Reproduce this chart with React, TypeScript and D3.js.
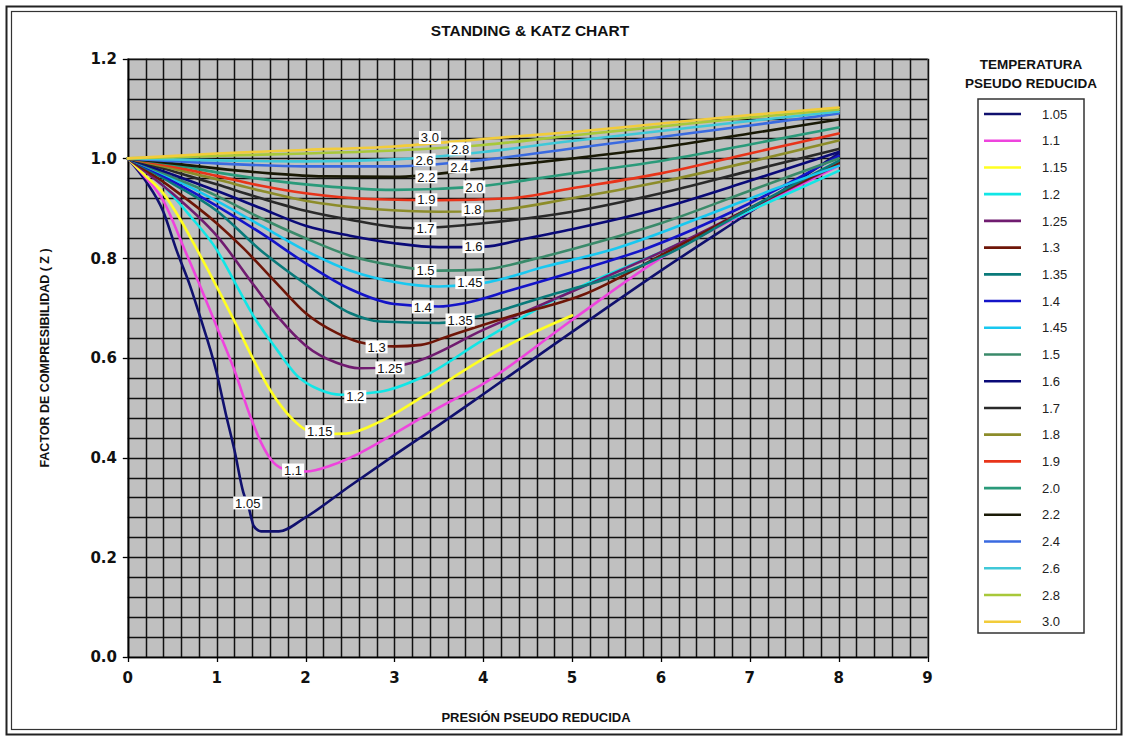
import React from "react";
import * as d3 from "d3";

type P = [number, number];

const temps = ["1.05", "1.1", "1.15", "1.2", "1.25", "1.3", "1.35", "1.4", "1.45", "1.5", "1.6", "1.7", "1.8", "1.9", "2.0", "2.2", "2.4", "2.6", "2.8", "3.0"];
const colors = ["#10106e", "#ee44dd", "#ffff22", "#11e6e6", "#701c70", "#6e1608", "#0a7a7a", "#1414c8", "#18c8f0", "#3a8a6a", "#0a0a78", "#2a2a2a", "#8c8c2a", "#e8341a", "#2a9a7a", "#1a1a06", "#3a6ae0", "#40c8d8", "#a8c83a", "#f2cc3a"];

const z105: P[] = [[0, 1], [0.2, 0.955], [0.4, 0.893], [0.55, 0.815], [0.7, 0.745], [0.8, 0.69], [1.0, 0.57], [1.1, 0.49], [1.2, 0.415], [1.3, 0.33], [1.36, 0.3], [1.42, 0.262], [1.5, 0.252], [1.7, 0.252], [2.0, 0.28], [2.5, 0.343], [3.0, 0.405], [3.5, 0.465], [4.0, 0.527], [5.0, 0.652], [6.0, 0.775], [7.0, 0.892], [8.0, 1.01]];
const z110: P[] = [[0, 1], [0.2, 0.962], [0.4, 0.915], [0.64, 0.817], [0.8, 0.75], [1.0, 0.663], [1.2, 0.575], [1.38, 0.482], [1.5, 0.43], [1.64, 0.39], [1.8, 0.375], [2.0, 0.372], [2.3, 0.385], [2.6, 0.408], [3.0, 0.448], [3.5, 0.5], [4.0, 0.548], [5.0, 0.676], [6.0, 0.8], [7.0, 0.895], [8.0, 0.985]];
const z115: P[] = [[0, 1], [0.2, 0.965], [0.4, 0.93], [0.6, 0.875], [0.74, 0.83], [1.0, 0.743], [1.23, 0.663], [1.41, 0.598], [1.6, 0.536], [1.86, 0.476], [2.0, 0.456], [2.2, 0.447], [2.46, 0.448], [2.84, 0.472], [3.3, 0.52], [4.0, 0.598], [4.5, 0.645], [5.0, 0.685]];
const z120: P[] = [[0, 1], [0.4, 0.945], [0.7, 0.885], [1.0, 0.817], [1.23, 0.743], [1.41, 0.685], [1.68, 0.616], [1.9, 0.565], [2.16, 0.536], [2.4, 0.526], [2.84, 0.532], [3.3, 0.56], [4.0, 0.636], [5.0, 0.735], [6.0, 0.812], [7.0, 0.895], [8.0, 0.975]];
const z125: P[] = [[0, 1], [0.5, 0.93], [1.0, 0.845], [1.43, 0.743], [1.7, 0.68], [2.0, 0.625], [2.35, 0.59], [2.6, 0.579], [2.9, 0.58], [3.2, 0.59], [4.0, 0.656], [5.0, 0.733], [6.0, 0.812], [7.0, 0.9], [8.0, 0.988]];
const z130: P[] = [[0, 1], [0.5, 0.94], [1.0, 0.87], [1.3, 0.82], [1.71, 0.743], [2.0, 0.69], [2.35, 0.65], [2.6, 0.632], [3.0, 0.623], [3.3, 0.626], [3.6, 0.643], [4.3, 0.683], [5.1, 0.725], [6.1, 0.815], [7.0, 0.9], [8.0, 0.99]];
const z135: P[] = [[0, 1], [0.5, 0.95], [1.0, 0.895], [1.5, 0.815], [2.0, 0.748], [2.5, 0.69], [2.84, 0.673], [3.5, 0.67], [4.0, 0.686], [4.7, 0.723], [5.5, 0.765], [6.1, 0.81], [7.0, 0.9], [8.0, 0.995]];
const z140: P[] = [[0, 1], [0.5, 0.955], [1.0, 0.905], [1.5, 0.85], [2.0, 0.79], [2.5, 0.738], [3.0, 0.708], [3.5, 0.703], [3.8, 0.71], [4.3, 0.735], [5.1, 0.777], [5.8, 0.817], [7.0, 0.91], [8.0, 1.005]];
const z145: P[] = [[0, 1], [0.5, 0.96], [1.0, 0.915], [1.5, 0.865], [2.0, 0.815], [2.5, 0.775], [3.0, 0.752], [3.5, 0.743], [4.0, 0.75], [4.7, 0.783], [5.5, 0.82], [6.5, 0.885], [7.3, 0.94], [8.0, 0.985]];
const z150: P[] = [[0, 1], [0.5, 0.963], [1.0, 0.925], [1.5, 0.88], [2.0, 0.84], [2.5, 0.805], [3.0, 0.785], [3.5, 0.775], [4.0, 0.777], [4.5, 0.795], [5.0, 0.818], [6.0, 0.87], [7.0, 0.935], [8.0, 1.0]];
const z160: P[] = [[0, 1], [0.5, 0.968], [1.0, 0.935], [1.5, 0.9], [2.0, 0.865], [2.5, 0.845], [3.0, 0.83], [3.5, 0.822], [4.0, 0.823], [4.5, 0.84], [5.0, 0.858], [6.0, 0.9], [7.0, 0.955], [8.0, 1.013]];
const z170: P[] = [[0, 1], [0.5, 0.975], [1.0, 0.948], [1.5, 0.92], [2.0, 0.895], [2.5, 0.877], [3.2, 0.86], [4.0, 0.87], [5.0, 0.893], [6.0, 0.93], [7.0, 0.975], [8.0, 1.019]];
const z180: P[] = [[0, 1], [0.5, 0.98], [1.0, 0.958], [1.5, 0.935], [2.0, 0.915], [2.8, 0.898], [3.5, 0.893], [4.0, 0.894], [5.0, 0.92], [6.0, 0.953], [7.0, 0.993], [8.0, 1.036]];
const z190: P[] = [[0, 1], [0.5, 0.984], [1.0, 0.965], [1.5, 0.945], [2.0, 0.93], [2.8, 0.918], [3.5, 0.916], [4.3, 0.92], [5.0, 0.94], [6.0, 0.97], [7.0, 1.01], [8.0, 1.05]];
const z200: P[] = [[0, 1], [0.5, 0.988], [1.0, 0.972], [2.0, 0.948], [3.0, 0.937], [3.9, 0.943], [4.5, 0.957], [5.0, 0.97], [6.0, 0.995], [7.0, 1.028], [8.0, 1.062]];
const z220: P[] = [[0, 1], [0.5, 0.99], [1.0, 0.98], [1.6, 0.97], [2.2, 0.964], [3.0, 0.963], [4.0, 0.98], [5.0, 1.0], [6.0, 1.022], [7.0, 1.05], [8.0, 1.078]];
const z240: P[] = [[0, 1], [1, 0.99], [2, 0.984], [3, 0.984], [4, 0.997], [5, 1.02], [6, 1.043], [7, 1.066], [8, 1.09]];
const z260: P[] = [[0, 1], [1, 0.996], [2, 0.994], [3, 0.998], [4, 1.013], [5, 1.035], [6, 1.055], [7, 1.075], [8, 1.094]];
const z280: P[] = [[0, 1], [1, 1.005], [2, 1.01], [3, 1.016], [4, 1.027], [5, 1.046], [6, 1.064], [7, 1.082], [8, 1.098]];
const z300: P[] = [[0, 1], [1, 1.01], [2, 1.017], [3, 1.024], [4, 1.039], [5, 1.053], [6, 1.07], [7, 1.087], [8, 1.102]];

const seriesValues: P[][] = [z105, z110, z115, z120, z125, z130, z135, z140, z145, z150, z160, z170, z180, z190, z200, z220, z240, z260, z280, z300];

// curve label anchor positions (data units: Ppr, Z)
const labelPr = [1.35, 1.86, 2.16, 2.56, 2.95, 2.8, 3.74, 3.32, 3.85, 3.35, 3.89, 3.35, 3.88, 3.36, 3.9, 3.36, 3.73, 3.34, 3.74, 3.4];
const labelZ = [0.309, 0.375, 0.452, 0.522, 0.58, 0.622, 0.676, 0.702, 0.751, 0.775, 0.823, 0.859, 0.897, 0.917, 0.943, 0.963, 0.983, 0.997, 1.019, 1.042];

const xTickValues = [0, 1, 2, 3, 4, 5, 6, 7, 8, 9];
const yTickValues = [0, 0.2, 0.4, 0.6, 0.8, 1.0, 1.2];
const yTickLabels = ["0.0", "0.2", "0.4", "0.6", "0.8", "1.0", "1.2"];

const SANS = "'Liberation Sans', Arial, sans-serif";
const TICKFONT = "'DejaVu Sans', Verdana, sans-serif";

export default function App() {
  const W = 1128;
  const H = 737;
  const x = d3.scaleLinear().domain([0, 9]).range([127.8, 927.5]);
  const y = d3.scaleLinear().domain([0, 1.2]).range([657, 58.7]);
  const line = d3
    .line<P>()
    .x((d) => x(d[0]))
    .y((d) => y(d[1]))
    .curve(d3.curveMonotoneX);

  const vGrid = d3.range(0, 45.5, 1).map((i) => i * 0.2);
  const hGrid = d3.range(0, 30.5, 1).map((i) => i * 0.04);
  const snap = (p: number) => Math.round(p) + 0.5;

  const legendY = d3.scalePoint<string>().domain(temps).range([114, 621.7]);

  const charW = (s: string) =>
    s.split("").reduce((a, c) => a + (c === "." ? 3.6 : 7.2), 0);

  return (
    <svg
      width={W}
      height={H}
      style={{ position: "absolute", left: 0, top: 0, background: "#fff" }}
    >
      <rect x={0} y={0} width={W} height={H} fill="#fff" />
      {/* frame */}
      <rect x={6.5} y={6.5} width={1115} height={728} fill="none" stroke="#222" strokeWidth={2} />
      <rect x={11.5} y={11.5} width={1105} height={718} fill="none" stroke="#333" strokeWidth={1.2} />

      {/* title */}
      <text x={530} y={36} textAnchor="middle" fontFamily={SANS} fontWeight="bold" fontSize={15.5} fill="#111">
        STANDING &amp; KATZ CHART
      </text>

      {/* plot area */}
      <rect x={x(0)} y={y(1.2)} width={x(9) - x(0)} height={y(0) - y(1.2)} fill="#c0c0c0" stroke="#8a8a8a" strokeWidth={1} />
      <g>
        {vGrid.map((v, i) => (
          <line key={"v" + i} x1={snap(x(v))} x2={snap(x(v))} y1={y(0)} y2={y(1.2)} stroke="#111" strokeWidth={1.5} />
        ))}
        {hGrid.map((v, i) => (
          <line key={"h" + i} x1={x(0)} x2={x(9)} y1={snap(y(v))} y2={snap(y(v))} stroke="#111" strokeWidth={1.5} />
        ))}
      </g>

      {/* axes */}
      <g>
        <line x1={snap(x(0))} x2={snap(x(0))} y1={y(0)} y2={y(1.2)} stroke="#000" strokeWidth={1.6} />
        <line x1={x(0)} x2={x(9)} y1={snap(y(0))} y2={snap(y(0))} stroke="#000" strokeWidth={1.6} />
        {yTickValues.map((v, i) => (
          <line key={"yt" + i} x1={x(0) - 5} x2={x(0)} y1={snap(y(v))} y2={snap(y(v))} stroke="#000" strokeWidth={1.3} />
        ))}
        {xTickValues.map((v, i) => (
          <line key={"xt" + i} x1={snap(x(v))} x2={snap(x(v))} y1={y(0)} y2={y(0) + 5} stroke="#000" strokeWidth={1.3} />
        ))}
      </g>
      {yTickValues.map((v, i) => (
        <text key={"yl" + i} x={117} y={y(v)} dy="0.36em" textAnchor="end" fontFamily={TICKFONT} fontWeight="bold" fontSize={15} fill="#111">
          {yTickLabels[i]}
        </text>
      ))}
      {xTickValues.map((v, i) => (
        <text key={"xl" + i} x={x(v)} y={678} dy="0.36em" textAnchor="middle" fontFamily={TICKFONT} fontWeight="bold" fontSize={15} fill="#111">
          {v}
        </text>
      ))}

      {/* axis titles */}
      <text x={536} y={722} textAnchor="middle" fontFamily={SANS} fontWeight="bold" fontSize={13} fill="#111">
        PRESIÓN PSEUDO REDUCIDA
      </text>
      <text
        transform={`translate(49,358) rotate(-90)`}
        textAnchor="middle"
        fontFamily={SANS}
        fontWeight="bold"
        fontSize={12.5}
        fill="#111"
      >
        FACTOR DE COMPRESIBILIDAD ( Z )
      </text>

      {/* curves */}
      <g fill="none" strokeLinejoin="round" strokeLinecap="round">
        {seriesValues.map((s, i) => (
          <path key={"s" + i} d={line(s) || ""} stroke={colors[i]} strokeWidth={2.6} />
        ))}
      </g>

      {/* curve labels */}
      {temps.map((t, i) => {
        const w = charW(t) + 4;
        const cx = x(labelPr[i]);
        const cy = y(labelZ[i]);
        return (
          <g key={"cl" + i}>
            <rect x={cx - w / 2} y={cy - 6.5} width={w} height={13} fill="#fff" />
            <text x={cx} y={cy} dy="0.36em" textAnchor="middle" fontFamily={SANS} fontSize={13} fill="#111">
              {t}
            </text>
          </g>
        );
      })}

      {/* legend */}
      <text x={1031} y={69} textAnchor="middle" fontFamily={SANS} fontWeight="bold" fontSize={13.5} fill="#111">
        TEMPERATURA
      </text>
      <text x={1031} y={88} textAnchor="middle" fontFamily={SANS} fontWeight="bold" fontSize={13.5} fill="#111">
        PSEUDO REDUCIDA
      </text>
      <rect x={978} y={99} width={106} height={534} fill="#fff" stroke="#333" strokeWidth={1.5} />
      {temps.map((t, i) => {
        const ly = legendY(t) as number;
        return (
          <g key={"lg" + i}>
            <line x1={984} x2={1021} y1={ly} y2={ly} stroke={colors[i]} strokeWidth={2.6} />
            <text x={1042} y={ly} dy="0.36em" fontFamily={SANS} fontSize={13} fill="#222">
              {t}
            </text>
          </g>
        );
      })}
    </svg>
  );
}
